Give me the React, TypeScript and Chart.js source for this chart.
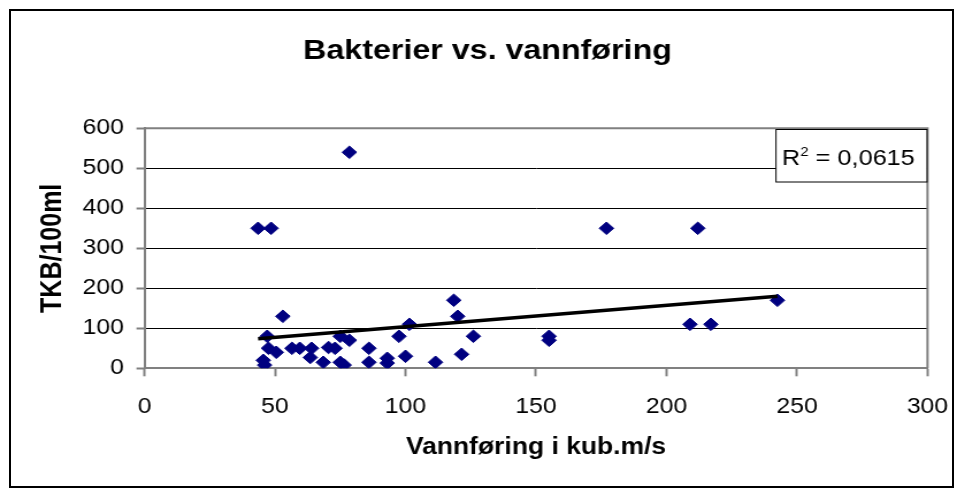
import React, { useEffect, useRef } from 'react';
import { Chart, registerables } from 'chart.js';

Chart.register(...registerables);

// ---- data ----
const flow = [43.5, 48.5, 78.5, 177, 212, 242.5, 209, 217, 155, 155, 118.5, 120, 101.5, 97.5, 126, 86, 121.5, 100, 86, 93, 93, 111.5, 75, 78.5, 73, 75, 76.5, 53, 47, 47.5, 50.5, 45.5, 46, 56.5, 59.5, 64, 63.5, 68.5, 70.5];
const tkb = [350, 350, 540, 350, 350, 170, 110, 110, 80, 70, 170, 130, 110, 80, 80, 50, 35, 30, 15, 25, 13, 15, 80, 70, 50, 15, 8, 130, 80, 50, 40, 20, 8, 50, 50, 50, 27, 15, 52];
const xTicks = [0, 50, 100, 150, 200, 250, 300];
const yTicks = [0, 100, 200, 300, 400, 500, 600];
const chartTitle = 'Bakterier vs. vannføring';
const xTitle = 'Vannføring i kub.m/s';
const yTitle = 'TKB/100ml';
const r2Value = '0,0615';

// ---- layout ----
const W = 957;
const H = 490;
const CW = 832; // canvas drawn narrower, then stretched horizontally like the reference
const K = W / CW;
const cx = (px: number) => px / K;
const FONT = '"Liberation Sans", Arial, Helvetica, sans-serif';

const PLOT_LEFT = 144.5;
const PLOT_RIGHT = 927.5;
const PLOT_TOP = 128.3;
const PLOT_BOTTOM = 368.3;

function regression(xs: number[], ys: number[]) {
  const n = xs.length;
  const mx = xs.reduce((a, b) => a + b, 0) / n;
  const my = ys.reduce((a, b) => a + b, 0) / n;
  let sxy = 0;
  let sxx = 0;
  for (let i = 0; i < n; i++) {
    sxy += (xs[i] - mx) * (ys[i] - my);
    sxx += (xs[i] - mx) * (xs[i] - mx);
  }
  const slope = sxy / sxx;
  const icpt = my - slope * mx;
  return { slope, icpt };
}

const decorPlugin = {
  id: 'decor',
  beforeDatasetsDraw(chart: any) {
    const { ctx, chartArea } = chart;
    ctx.save();
    ctx.strokeStyle = '#808080';
    ctx.lineWidth = 2;
    ctx.beginPath();
    ctx.moveTo(chartArea.left, chartArea.top);
    ctx.lineTo(chartArea.right, chartArea.top);
    ctx.lineTo(chartArea.right, chartArea.bottom);
    ctx.stroke();
    ctx.restore();
  },
  afterDraw(chart: any) {
    const { ctx } = chart;
    ctx.save();
    // title
    ctx.fillStyle = '#000';
    ctx.font = `bold 28px ${FONT}`;
    ctx.textAlign = 'center';
    ctx.textBaseline = 'alphabetic';
    ctx.fillText(chartTitle, cx(487.5), 59);

    // R² box
    const bx = cx(776);
    const by = 129.5;
    const bw = cx(927) - bx;
    const bh = 182 - by;
    ctx.fillStyle = '#fff';
    ctx.fillRect(bx, by, bw, bh);
    ctx.strokeStyle = '#000';
    ctx.lineWidth = 1;
    ctx.strokeRect(bx, by, bw, bh);
    ctx.fillStyle = '#000';
    ctx.textAlign = 'left';
    let tx = cx(782);
    const base = 165;
    ctx.font = `22px ${FONT}`;
    ctx.fillText('R', tx, base);
    tx += ctx.measureText('R').width;
    ctx.font = `13px ${FONT}`;
    ctx.fillText('2', tx, base - 9);
    tx += ctx.measureText('2').width;
    ctx.font = `22px ${FONT}`;
    ctx.fillText(' = ' + r2Value, tx, base);
    ctx.restore();
  },
};

export default function App() {
  const ref = useRef<HTMLCanvasElement | null>(null);

  useEffect(() => {
    const canvas = ref.current;
    if (!canvas) return;
    const { slope, icpt } = regression(flow, tkb);
    const xMin = Math.min(...flow);
    const xMax = Math.max(...flow);
    const trend = [
      { x: xMin, y: icpt + slope * xMin },
      { x: xMax, y: icpt + slope * xMax },
    ];
    const points = flow.map((x, i) => ({ x, y: tkb[i] }));

    const chart = new Chart(canvas, {
      type: 'scatter',
      data: {
        datasets: [
          {
            label: 'Trend',
            data: trend,
            showLine: true,
            borderColor: '#000',
            borderWidth: 3.5,
            pointRadius: 0,
            fill: false,
          } as any,
          {
            label: 'TKB',
            data: points,
            pointStyle: 'rectRot',
            pointRadius: 6.3,
            pointBackgroundColor: '#000080',
            pointBorderColor: '#000080',
            pointBorderWidth: 1,
            showLine: false,
          } as any,
        ],
      },
      options: {
        responsive: false,
        animation: false,
        devicePixelRatio: 1,
        layout: {
          padding: { left: 0, top: PLOT_TOP, right: CW - cx(PLOT_RIGHT), bottom: 0 },
        },
        plugins: {
          legend: { display: false },
          tooltip: { enabled: false },
          title: { display: false },
        },
        scales: {
          x: {
            type: 'linear',
            min: 0,
            max: 300,
            afterBuildTicks: (s: any) => {
              s.ticks = xTicks.map((v) => ({ value: v }));
            },
            afterFit: (s: any) => {
              s.height = H - PLOT_BOTTOM;
              s.paddingLeft = 0;
              s.paddingRight = 0;
            },
            ticks: {
              font: { family: FONT, size: 21.5 },
              color: '#000',
              padding: 18,
              maxRotation: 0,
              autoSkip: false,
            },
            grid: {
              drawOnChartArea: false,
              drawTicks: true,
              tickLength: 8,
              tickColor: '#808080',
              tickWidth: 2,
            },
            border: { display: true, color: '#808080', width: 2 },
            title: {
              display: true,
              text: xTitle,
              font: { family: FONT, size: 23, weight: 'bold' },
              color: '#000',
              padding: { top: 0, bottom: 29 },
            },
          },
          y: {
            type: 'linear',
            min: 0,
            max: 600,
            afterBuildTicks: (s: any) => {
              s.ticks = yTicks.map((v) => ({ value: v }));
            },
            afterFit: (s: any) => {
              s.width = cx(PLOT_LEFT);
              s.paddingTop = 0;
              s.paddingBottom = 0;
            },
            ticks: {
              font: { family: FONT, size: 21.5 },
              color: '#000',
              padding: 11,
              autoSkip: false,
            },
            grid: {
              color: (c: any) =>
                c.tick && (c.tick.value === 0 || c.tick.value === 600) ? 'rgba(0,0,0,0)' : '#000',
              lineWidth: 1,
              drawTicks: true,
              tickLength: 7,
              tickColor: '#808080',
              tickWidth: 2,
            },
            border: { display: true, color: '#808080', width: 2 },
            title: {
              display: true,
              text: yTitle,
              font: { family: FONT, size: 25, weight: 'bold' },
              color: '#000',
              padding: { top: 31, bottom: 0 },
            },
          },
        },
      } as any,
      plugins: [decorPlugin],
    });
    return () => chart.destroy();
  }, []);

  return (
    <div
      style={{
        position: 'fixed',
        left: 0,
        top: 0,
        width: W,
        height: H,
        overflow: 'hidden',
        background: '#fff',
      }}
    >
      <canvas
        ref={ref}
        width={CW}
        height={H}
        style={{
          display: 'block',
          width: CW,
          height: H,
          transform: `scaleX(${K})`,
          transformOrigin: '0 0',
        }}
      />
      <div
        style={{
          position: 'absolute',
          left: 9,
          top: 9,
          width: 945,
          height: 479,
          border: '2px solid #000',
          boxSizing: 'border-box',
          pointerEvents: 'none',
        }}
      />
    </div>
  );
}
